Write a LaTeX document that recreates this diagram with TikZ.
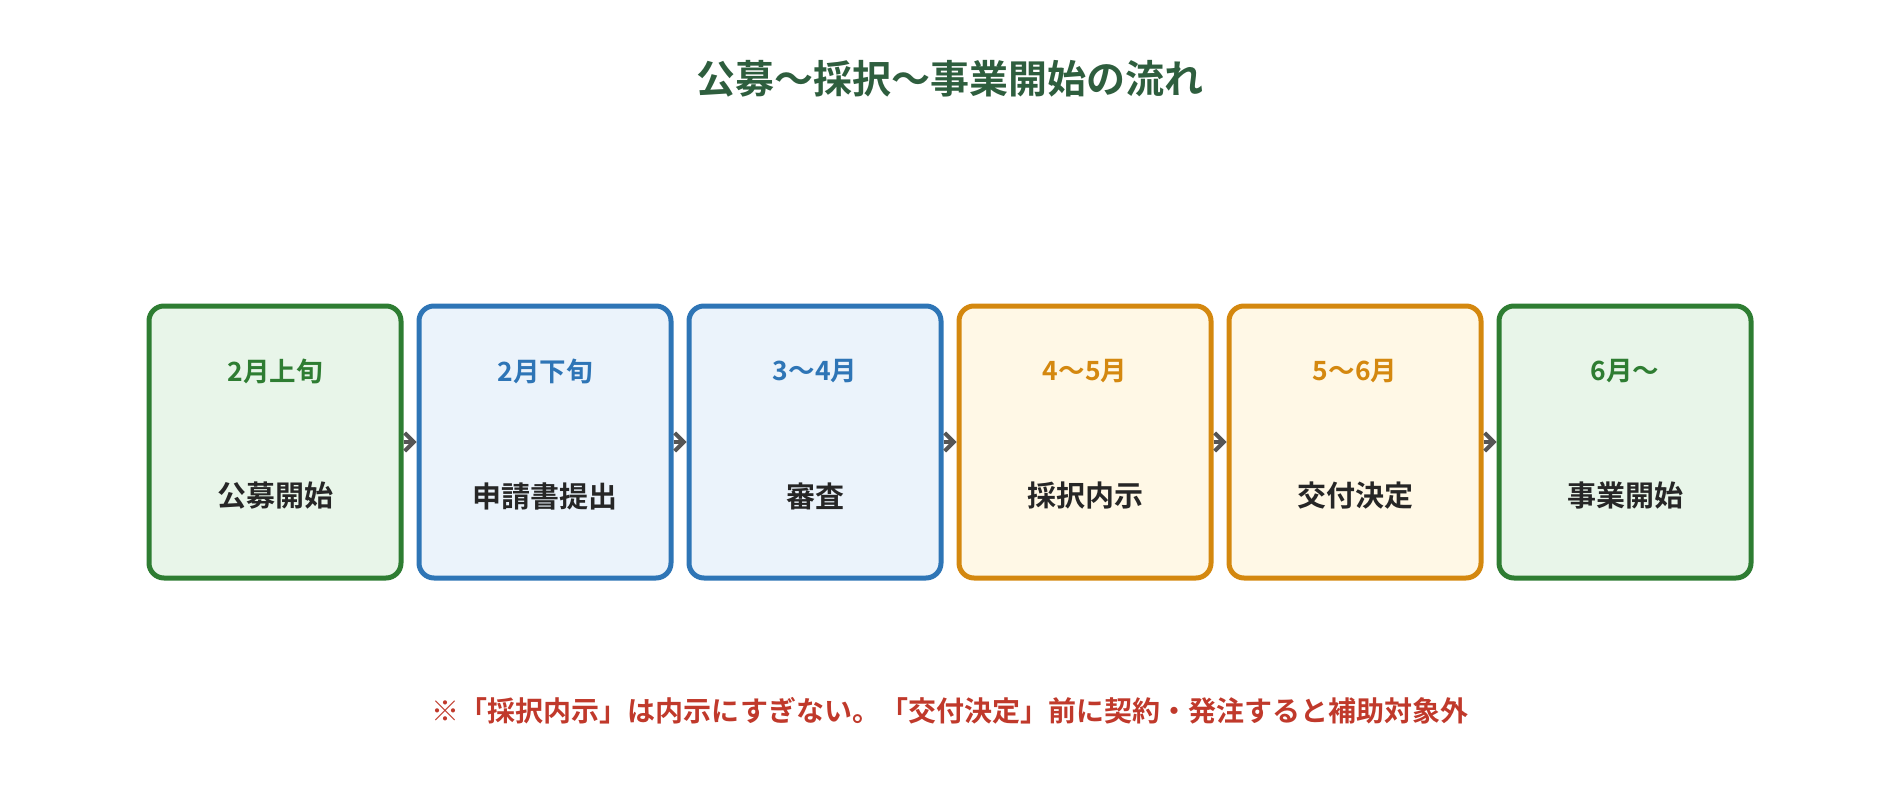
\documentclass[tikz,border=0pt]{standalone}
\usepackage{fontspec}
\setmainfont{Noto Sans CJK JP}[BoldFont={* Bold}]
\newfontfamily\cjk{Noto Sans CJK JP Bold}
\usetikzlibrary{positioning,arrows.meta}
\definecolor{dnxanh}{HTML}{2E7D32}
\definecolor{dnxanhnen}{HTML}{E8F5E9}
\definecolor{dnlam}{HTML}{2E75B6}
\definecolor{dnlamnen}{HTML}{EBF3FB}
\definecolor{dncam}{HTML}{D4880F}
\definecolor{dncamnen}{HTML}{FFF8E6}
\definecolor{dntieude}{HTML}{2E5E3E}
\definecolor{dndo}{HTML}{C0392B}
\definecolor{dnmui}{HTML}{555555}
\begin{document}
\begin{tikzpicture}[x=1pt,y=-1pt]
		\tikzset{
			buoc/.style={draw=#1,fill=#1nen,line width=5pt,rounded corners=15pt,
				minimum width=252pt,minimum height=272pt,inner sep=0pt},
			ngay/.style={font=\cjk\fontsize{26.5}{30}\selectfont,text=#1},
			viec/.style={font=\cjk\fontsize{29}{33}\selectfont,text=black!85},
			muiten/.style={draw=dnmui,line width=4pt,-{Straight Barb[length=9pt,width=18pt]}}
		}
		\useasboundingbox (0,0) rectangle (1900,810);
		%%%tieu de
		\node[font=\cjk\fontsize{39}{44}\selectfont,text=dntieude] (tieude) at (950,79) {公募〜採択〜事業開始の流れ};
		%%%cac buoc
		\foreach \i/\mau/\ng/\vc in {0/dnxanh/2月上旬/公募開始,1/dnlam/2月下旬/申請書提出,2/dnlam/3〜4月/審査,
			3/dncam/4〜5月/採択内示,4/dncam/5〜6月/交付決定,5/dnxanh/6月〜/事業開始}{%
			\node[buoc=\mau] (b\i) at (275+270*\i,442) {};
			\node[ngay=\mau] (n\i) at (275+270*\i,371) {\ng};
			\node[viec] (v\i) at (275+270*\i,496) {\vc};
		}
		%%%mui ten
		\foreach \i [evaluate=\i as \j using int(\i+1)] in {0,...,4}{%
			\draw[muiten] (b\i.east) -- (b\j.west);
		}
		%%%ghi chu
		\node[font=\cjk\fontsize{28}{32}\selectfont,text=dndo] (ghichu) at (950,711) {※「採択内示」は内示にすぎない。「交付決定」前に契約・発注すると補助対象外};
	\end{tikzpicture}
\end{document}
